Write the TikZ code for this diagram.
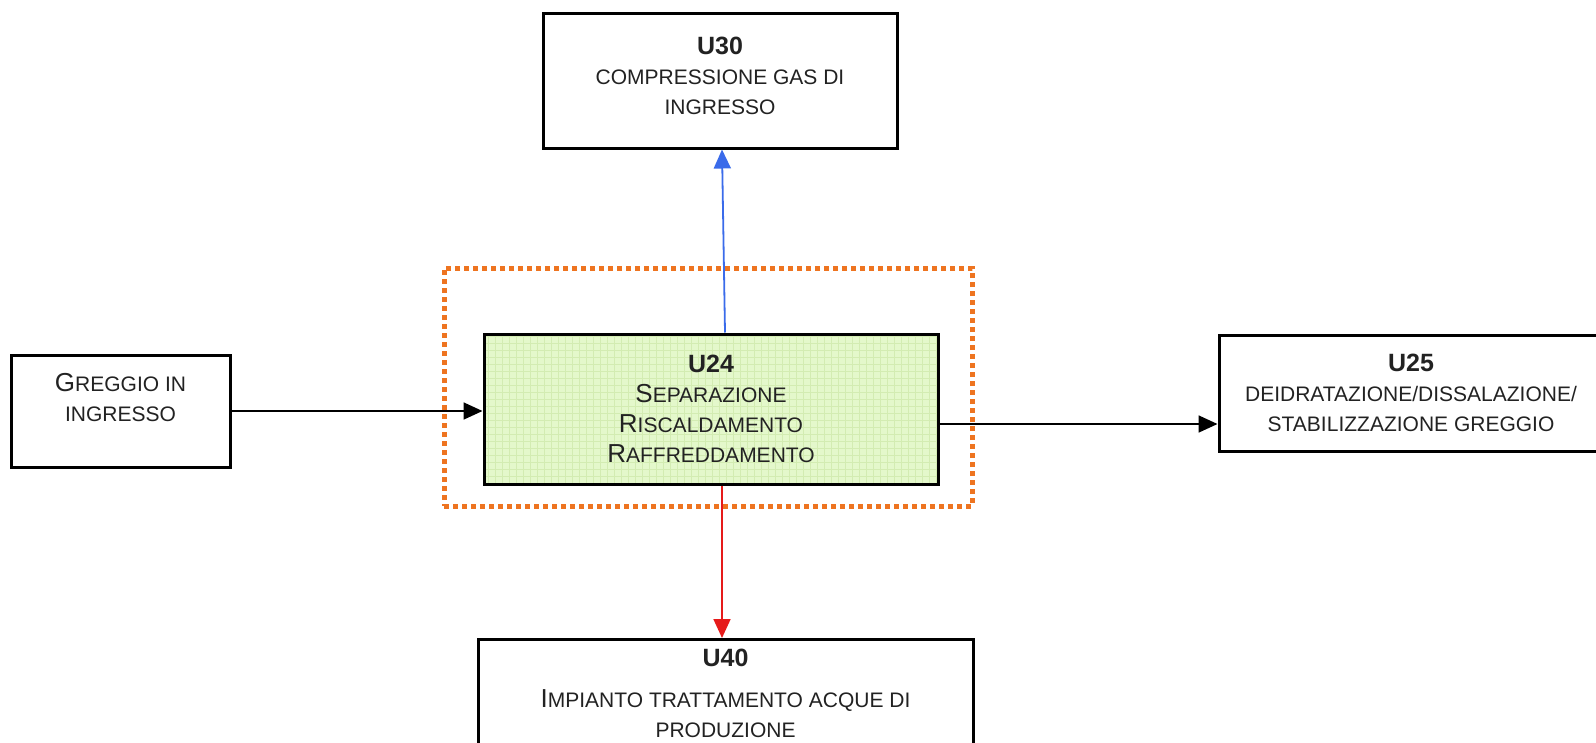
\documentclass[tikz,border=0pt]{standalone}
\usepackage{fontspec}
\setmainfont{Liberation Sans}
\usepackage{tikz}
\usetikzlibrary{arrows.meta}
\definecolor{zoneorange}{HTML}{EE7420}
\definecolor{flowblue}{HTML}{3A6BEA}
\definecolor{flowred}{HTML}{E61A1A}
\definecolor{selgreen}{HTML}{E4F8CB}
\definecolor{gridgreen}{HTML}{D3ECB2}
\definecolor{inkgray}{HTML}{222222}
\newcommand\unum[1]{{\fontsize{25}{30}\selectfont\bfseries #1}}
\newcommand\smc[1]{{\fontsize{21}{30}\selectfont #1}}

\begin{document}
\begin{tikzpicture}[x=1pt, y=-1pt,
	unit/.style={rectangle, draw=black, line width=3pt, fill=white, text=inkgray, align=center, inner sep=0pt, font=\fontsize{26}{30}\selectfont},
	unitsel/.style={unit, fill=selgreen, path picture={\draw[gridgreen, line width=0.6pt, step=7pt] (path picture bounding box.south west) grid (path picture bounding box.north east);}},
	zone/.style={rectangle, draw=zoneorange, line width=5pt, dash pattern=on 5pt off 4pt, inner sep=0pt},
	flow/.style={-{Triangle[length=19pt, width=17pt]}, line width=1.8pt},
	]
		\useasboundingbox (0,0) rectangle (1596,742);

		%Nodes
		\node[zone, minimum width=528, minimum height=238]   (Zone)     at (708,387)    {};
		\node[unitsel, minimum width=454, minimum height=150, text depth=0pt] (U24) at (711,409) {\unum{U24}\\S\smc{EPARAZIONE}\\R\smc{ISCALDAMENTO}\\R\smc{AFFREDDAMENTO}};
		\node[unit, minimum width=219, minimum height=112, text depth=28pt] (Greggio) at (120.5,411) {G\smc{REGGIO IN}\\\smc{INGRESSO}};
		\node[unit, minimum width=354, minimum height=135, text depth=10pt] (U30) at (720,80.5) {\unum{U30}\\\smc{COMPRESSIONE GAS DI}\\\smc{INGRESSO}};
		\node[unit, minimum width=384, minimum height=116]    (U25)     at (1411,393)   {\unum{U25}\\\smc{DEIDRATAZIONE/DISSALAZIONE/}\\\smc{STABILIZZAZIONE GREGGIO}};
		\node[unit, minimum width=495, anchor=north, inner sep=10pt, text depth=40pt] (U40) at (725.5,638) {\unum{U40}\\[11pt]I\smc{MPIANTO TRATTAMENTO ACQUE DI}\\\smc{PRODUZIONE}};

		%Lines
		\draw[flow] (Greggio.east) -- (U24.west |- Greggio.east);
		\draw[flow] ([yshift=-15pt]U24.east) -- ([yshift=-31pt]U25.west);
		\draw[flow, flowblue] ([xshift=14pt]U24.north) -- ([xshift=2pt]U30.south);
		\draw[flow, flowred] ([xshift=11pt]U24.south) -- ([xshift=-3.5pt]U40.north);
	\end{tikzpicture}
\end{document}
